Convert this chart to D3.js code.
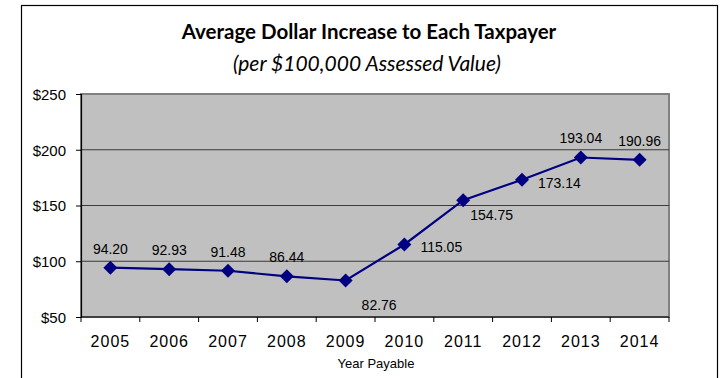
<!DOCTYPE html>
<html>
<head>
<meta charset="utf-8">
<script src="https://cdn.jsdelivr.net/npm/d3@7"></script>
<style>
  html, body { margin: 0; padding: 0; background: #fff; }
  svg { display: block; }
</style>
</head>
<body>
<svg id="chart" width="723" height="378"></svg>
<script>
// Average dollar increase per $100,000 of assessed value, by year payable
const years = ["2005", "2006", "2007", "2008", "2009", "2010", "2011", "2012", "2013", "2014"];
const increase = [94.20, 92.93, 91.48, 86.44, 82.76, 115.05, 154.75, 173.14, 193.04, 190.96];
const yTicks = [50, 100, 150, 200, 250];
const yTickLabels = ["$50", "$100", "$150", "$200", "$250"];

// Where each value label sits relative to its marker
const labelPlacement = ["above", "above", "above", "above", "belowRight", "right", "lowerRight", "right", "above", "above"];
const placementOffset = {
  above:      { dx: 0,  dy: -19, anchor: "middle" },
  right:      { dx: 16, dy: 3,   anchor: "start" },
  lowerRight: { dx: 7,  dy: 15,  anchor: "start" },
  belowRight: { dx: 16, dy: 25,  anchor: "start" }
};

const svg = d3.select("#chart");
const plot = { left: 81, right: 669, top: 94, bottom: 317 };

// Outer frame
svg.append("rect")
  .attr("x", 21.5).attr("y", 5.5)
  .attr("width", 696).attr("height", 380)
  .attr("fill", "#fff").attr("stroke", "#000").attr("stroke-width", 1.2);

// Titles
svg.append("text")
  .attr("x", 369).attr("y", 39)
  .attr("text-anchor", "middle")
  .attr("font-family", "Lato, 'Open Sans', sans-serif")
  .attr("font-weight", "bold").attr("font-size", 20.5)
  .attr("fill", "#000")
  .text("Average Dollar Increase to Each Taxpayer");

svg.append("text")
  .attr("x", 367).attr("y", 71)
  .attr("text-anchor", "middle")
  .attr("font-family", "Lato, 'Open Sans', sans-serif")
  .attr("font-style", "italic").attr("font-size", 21)
  .attr("fill", "#000")
  .text("(per $100,000 Assessed Value)");

const x = d3.scaleBand().domain(years).range([plot.left, plot.right]).padding(0);
const y = d3.scaleLinear().domain([50, 250]).range([plot.bottom, plot.top]);

// Plot area
svg.append("rect")
  .attr("x", plot.left).attr("y", plot.top)
  .attr("width", plot.right - plot.left).attr("height", plot.bottom - plot.top)
  .attr("fill", "#c0c0c0")
  .attr("stroke", "#808080").attr("stroke-width", 2);

// Gridlines
svg.append("g")
  .selectAll("line")
  .data(yTicks.filter(v => v > 50 && v < 250))
  .join("line")
  .attr("x1", plot.left).attr("x2", plot.right)
  .attr("y1", d => y(d)).attr("y2", d => y(d))
  .attr("stroke", "#3a3a3a").attr("stroke-width", 1.2);

// Y axis
const yAxis = svg.append("g")
  .attr("transform", `translate(${plot.left},0)`)
  .call(d3.axisLeft(y).tickValues(yTicks)
    .tickFormat((d, i) => yTickLabels[i]).tickSize(5).tickPadding(10));
yAxis.select(".domain").attr("stroke", "#000").attr("stroke-width", 1.2);
yAxis.selectAll(".tick line").attr("stroke", "#000");
yAxis.selectAll("text")
  .attr("font-family", "'Liberation Sans', Arial, sans-serif")
  .attr("font-size", 15).attr("fill", "#000")
  .attr("dy", "0.35em");

// X axis: ticks on category boundaries
const xAxis = svg.append("g").attr("transform", `translate(0,${plot.bottom})`);
xAxis.append("line")
  .attr("x1", plot.left).attr("x2", plot.right)
  .attr("stroke", "#000").attr("stroke-width", 1.2);
xAxis.selectAll(".bound")
  .data(years.concat(["end"]))
  .join("line")
  .attr("class", "bound")
  .attr("x1", (d, i) => i < years.length ? x(d) : plot.right)
  .attr("x2", (d, i) => i < years.length ? x(d) : plot.right)
  .attr("y1", 0).attr("y2", 5)
  .attr("stroke", "#000");
xAxis.selectAll(".yearLabel")
  .data(years)
  .join("text")
  .attr("class", "yearLabel")
  .attr("x", d => x(d) + x.bandwidth() / 2)
  .attr("y", 30)
  .attr("text-anchor", "middle")
  .attr("font-family", "'Liberation Sans', Arial, sans-serif")
  .attr("font-size", 16).attr("letter-spacing", 1)
  .attr("fill", "#000")
  .text(d => d);

svg.append("text")
  .attr("x", 376).attr("y", 368)
  .attr("text-anchor", "middle")
  .attr("font-family", "'Liberation Sans', Arial, sans-serif")
  .attr("font-size", 13).attr("fill", "#000")
  .text("Year Payable");

// Series line and diamond markers
const cx = d => x(d) + x.bandwidth() / 2;
const line = d3.line().x((d, i) => cx(years[i])).y(d => y(d));

svg.append("path")
  .datum(increase)
  .attr("d", line)
  .attr("fill", "none")
  .attr("stroke", "#000080").attr("stroke-width", 2.2);

const diamond = d3.symbol().type(d3.symbolDiamond2).size(125);
svg.append("g")
  .selectAll("path")
  .data(increase)
  .join("path")
  .attr("transform", (d, i) => `translate(${cx(years[i])},${y(d)})`)
  .attr("d", diamond)
  .attr("fill", "#000080");

// Value labels
svg.append("g")
  .selectAll("text")
  .data(increase)
  .join("text")
  .each(function (d, i) {
    const p = placementOffset[labelPlacement[i]];
    d3.select(this)
      .attr("x", cx(years[i]) + p.dx)
      .attr("y", y(d) + p.dy)
      .attr("dy", "0.35em")
      .attr("text-anchor", p.anchor);
  })
  .attr("font-family", "'Liberation Sans', Arial, sans-serif")
  .attr("font-size", 14).attr("fill", "#000")
  .text(d => d.toFixed(2));
</script>
</body>
</html>
